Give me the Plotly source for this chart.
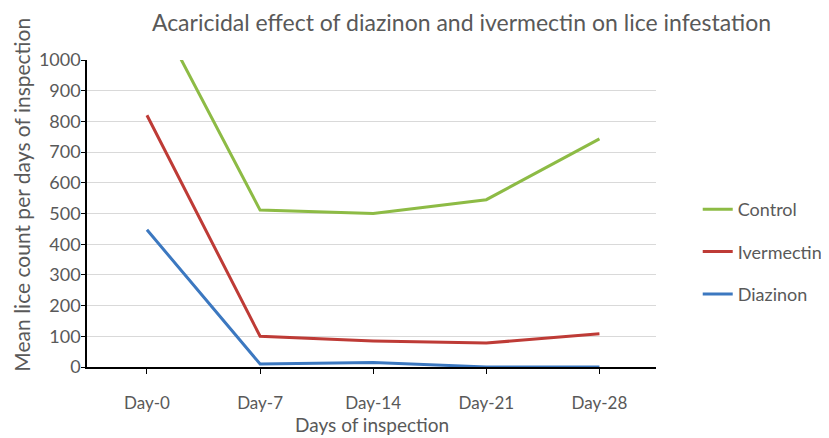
import plotly.graph_objects as go

# Data
days = ["Day-0", "Day-7", "Day-14", "Day-21", "Day-28"]
control = [1214, 511, 500, 545, 743]
ivermectin = [820, 100, 85, 78, 108]
diazinon = [447, 10, 15, 0, 0]

grey = "#595959"
font_family = "Lato, Open Sans, sans-serif"

fig = go.Figure()

fig.add_trace(go.Scatter(x=days, y=control, mode="lines", name="Control",
                         line=dict(color="#8DBB45", width=3), legendgroup="a"))
fig.add_trace(go.Scatter(x=days, y=ivermectin, mode="lines", name="Ivermectin",
                         line=dict(color="#BE3B36", width=3), legendgroup="b"))
fig.add_trace(go.Scatter(x=days, y=diazinon, mode="lines", name="Diazinon",
                         line=dict(color="#3C78C0", width=3), legendgroup="c"))

fig.update_layout(
    width=829,
    height=438,
    plot_bgcolor="white",
    paper_bgcolor="white",
    font=dict(family=font_family, color=grey, size=17),
    margin=dict(l=79, r=181, t=52, b=79),
    title=dict(
        text="Acaricidal effect of diazinon and ivermectin on lice infestation",
        x=0.547, xanchor="center", y=0.985, yanchor="top",
        font=dict(size=23, color=grey),
    ),
    legend=dict(
        xref="container", yref="container",
        x=0.832, xanchor="left", y=0.443, yanchor="middle",
        font=dict(size=18, color=grey),
        tracegroupgap=16,
        bgcolor="rgba(0,0,0,0)",
    ),
    annotations=[
        dict(text="Mean lice count per days of inspection", textangle=-90,
             xref="paper", yref="paper", x=-0.115, y=0.56,
             xanchor="center", yanchor="middle", showarrow=False,
             font=dict(size=21, color=grey)),
        dict(text="Days of inspection",
             xref="paper", yref="paper", x=0.5, y=-0.186,
             xanchor="center", yanchor="middle", showarrow=False,
             font=dict(size=19, color=grey)),
    ],
)

fig.update_xaxes(
    type="category",
    range=[-0.53, 4.5],
    showline=True, linecolor="black", linewidth=1.5,
    ticks="outside", ticklen=5, tickcolor="black",
    ticklabelstandoff=15,
    showgrid=False,
    tickfont=dict(size=17, color=grey),
)

fig.update_yaxes(
    range=[0, 1000],
    dtick=100,
    showline=True, linecolor="black", linewidth=1.5,
    ticks="outside", ticklen=4, tickcolor="black",
    ticklabelstandoff=-3,
    showgrid=True, gridcolor="#d9d9d9", gridwidth=1,
    zeroline=False,
    tickfont=dict(size=18, color=grey),
)

fig.write_html("out.html")
